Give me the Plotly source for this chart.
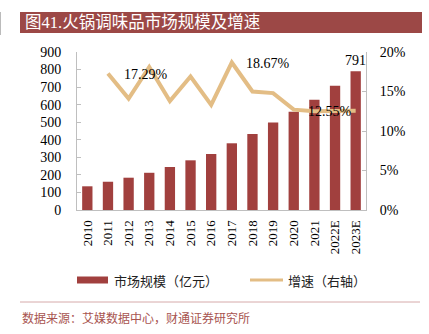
import plotly.graph_objects as go

years = ["2010", "2011", "2012", "2013", "2014", "2015", "2016", "2017", "2018", "2019", "2020", "2021", "2022E", "2023E"]
market = [135, 161, 184, 212, 245, 283, 319, 380, 433, 499, 560, 628, 708, 791]
growth = [None, 17.29, 14.1, 18.1, 13.8, 16.9, 13.3, 18.67, 15.0, 14.8, 12.7, 12.5, 12.55, 12.55]
left_ticks = list(range(0, 901, 100))
right_ticks = [0, 5, 10, 15, 20]
right_labels = [f"{v}%" for v in right_ticks]

BAR = "#A1403E"
LINE = "#E3BD85"
TITLE_BG = "#9C4846"
SERIF = "Liberation Serif, Noto Sans CJK SC"
CJK = "Noto Sans CJK SC"

fig = go.Figure()
fig.add_trace(go.Bar(x=years, y=market, marker=dict(color=BAR, line=dict(width=0)),
                     name="市场规模（亿元）", showlegend=False))
fig.add_trace(go.Scatter(x=years, y=growth, yaxis="y2", mode="lines",
                         line=dict(color=LINE, width=4), name="增速（右轴）", showlegend=False))

# data labels (category index positions)
fig.add_annotation(x=1, y=growth[1], yref="y2", text="17.29%", showarrow=False,
                   xanchor="left", yanchor="middle", xshift=14, yshift=-1,
                   font=dict(family=SERIF, size=14, color="#000"))
fig.add_annotation(x=7, y=growth[7], yref="y2", text="18.67%", showarrow=False,
                   xanchor="left", yanchor="middle", xshift=12, yshift=-1,
                   font=dict(family=SERIF, size=14, color="#000"))
fig.add_annotation(x=12, y=growth[12], yref="y2", text="12.55%", showarrow=False,
                   xanchor="center", yanchor="middle", xshift=-5, yshift=-1,
                   font=dict(family=SERIF, size=14, color="#000"))
fig.add_annotation(x=13, y=market[13], yref="y", text=str(market[13]), showarrow=False,
                   xanchor="center", yanchor="bottom", yshift=1,
                   font=dict(family=SERIF, size=14, color="#000"))

# title bar
fig.add_shape(type="rect", xref="paper", yref="paper", x0=-57/289, x1=345/289,
              y0=1 + (52 - 33) / 158, y1=1 + (52 - 12) / 158, fillcolor=TITLE_BG, line=dict(width=0), layer="below")
fig.add_shape(type="line", xref="paper", yref="paper", x0=-76.5/289, x1=-76.5/289,
              y0=1 + (52 - 35) / 158, y1=1 + (52 - 12) / 158, line=dict(color="#BBBBBB", width=1))
fig.add_annotation(xref="paper", yref="paper", x=-54/289, y=1 + (52 - 22.5) / 158, text="图41.火锅调味品市场规模及增速",
                   showarrow=False, xanchor="left", yanchor="middle",
                   font=dict(family=SERIF, size=16.5, color="white"))

# manual legend
ly = 1 - (280 - 52) / 158
fig.add_shape(type="rect", xref="paper", yref="paper", x0=0/289, x1=31/289,
              y0=ly - 3.5/158, y1=ly + 3.5/158, fillcolor=BAR, line=dict(width=0))
fig.add_annotation(xref="paper", yref="paper", x=35/289, y=ly, text="市场规模（亿元）", showarrow=False,
                   xanchor="left", yanchor="middle", font=dict(family=CJK, size=13, color="#222"))
fig.add_shape(type="line", xref="paper", yref="paper", x0=173/289, x1=206/289, y0=ly, y1=ly,
              line=dict(color=LINE, width=3))
fig.add_annotation(xref="paper", yref="paper", x=209/289, y=ly, text="增速（右轴）", showarrow=False,
                   xanchor="left", yanchor="middle", font=dict(family=CJK, size=13, color="#222"))

# separator and source
sy = 1 - (302 - 52) / 158
fig.add_shape(type="line", xref="paper", yref="paper", x0=-57/289, x1=343/289, y0=sy, y1=sy,
              line=dict(color="#D6AAAA", width=1))
fig.add_annotation(xref="paper", yref="paper", x=-57/289, y=1 - (317 - 52) / 158,
                   text="数据来源：艾媒数据中心，财通证券研究所", showarrow=False,
                   xanchor="left", yanchor="middle", font=dict(family=CJK, size=12, color="#A85450"))

fig.update_layout(
    width=429, height=334,
    margin=dict(l=77, r=63, t=52, b=124),
    paper_bgcolor="white", plot_bgcolor="white",
    bargap=0.5,
    xaxis=dict(type="category", range=[-0.5, 13.5], tickangle=-90, showline=True, linecolor="#BFBFBF", linewidth=1,
               ticks="", showgrid=False, tickfont=dict(family=SERIF, size=13, color="#000"),
               ticklabelstandoff=4),
    yaxis=dict(range=[0, 900], tickvals=left_ticks, showline=True, linecolor="#BFBFBF", linewidth=1,
               ticks="inside", ticklen=4, tickcolor="#BFBFBF", showgrid=False, zeroline=False,
               tickfont=dict(family=SERIF, size=14, color="#000"), ticklabelstandoff=12),
    yaxis2=dict(range=[0, 20], tickvals=right_ticks, ticktext=right_labels, overlaying="y", side="right",
                showline=True, linecolor="#BFBFBF", linewidth=1, ticks="inside", ticklen=4,
                tickcolor="#BFBFBF", showgrid=False, zeroline=False,
                tickfont=dict(family=SERIF, size=14, color="#000"), ticklabelstandoff=10),
    showlegend=False,
)

fig.write_html("out.html")
